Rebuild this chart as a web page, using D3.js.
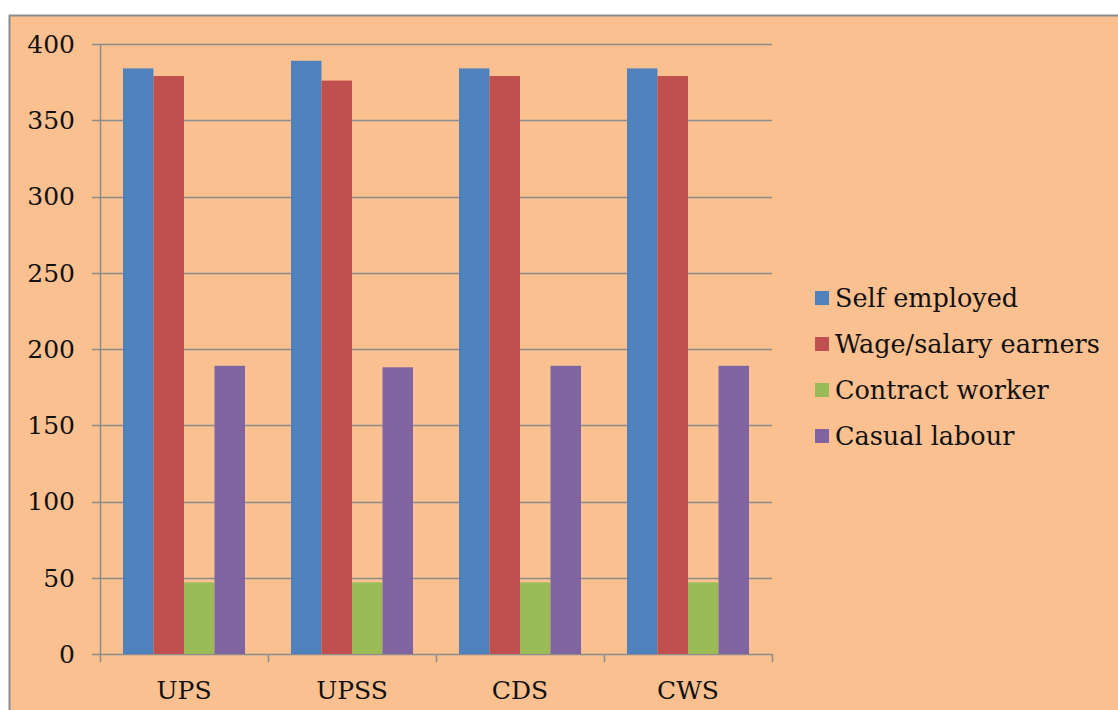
<!DOCTYPE html>
<html>
<head>
<meta charset="utf-8">
<script src="https://cdn.jsdelivr.net/npm/d3@7"></script>
<style>
  body { margin: 0; background: #fff; }
  text { font-family: "DejaVu Serif", "Liberation Serif", serif; fill: #111; }
</style>
</head>
<body>
<div class="canvas"></div>
<script>
// chart data
var categories = ['UPS', 'UPSS', 'CDS', 'CWS'];
var seriesNames = ['Self employed', 'Wage/salary earners', 'Contract worker', 'Casual labour'];
var selfEmployed = [384, 389, 384, 384];
var wageEarners = [379, 376, 379, 379];
var contractWorker = [47, 47, 47, 47];
var casualLabour = [189, 188, 189, 189];
var yTicks = [0, 50, 100, 150, 200, 250, 300, 350, 400];

var colors = ['#4F81BD', '#C0504D', '#9BBB59', '#8064A2'];
var seriesValues = [selfEmployed, wageEarners, contractWorker, casualLabour];

var canvasWidth = 1118, canvasHeight = 710;
var margin = {t:44, r:346, b:56, l:100};
var plotWidth = canvasWidth - margin.l - margin.r,
    plotHeight = canvasHeight - margin.t - margin.b;

var svg = d3.select('.canvas')
    .append('svg')
    .attr('width', canvasWidth)
    .attr('height', canvasHeight);

// chart area background + border
svg.append('rect')
    .attr('x', 9.5).attr('y', 15.5)
    .attr('width', canvasWidth)
    .attr('height', canvasHeight)
    .style('fill', '#FAC090')
    .style('stroke', '#8c8c8c')
    .style('stroke-width', 2);

var plot = svg.append('g')
    .attr('transform', 'translate(' + margin.l + ',' + margin.t + ')');

var x = d3.scaleBand()
    .domain(categories)
    .range([0, plotWidth])
    .paddingInner(0)
    .paddingOuter(0);

var x1 = d3.scaleBand()
    .domain(d3.range(seriesNames.length))
    .range([23, x.bandwidth() - 23]);

var y = d3.scaleLinear()
    .domain([0, 400])
    .range([plotHeight, 0]);

// gridlines
plot.selectAll('line.grid')
    .data(yTicks)
    .enter().append('line')
    .attr('class', 'grid')
    .attr('x1', -8)
    .attr('x2', plotWidth)
    .attr('y1', function(d){ return Math.round(y(d)) + 0.5; })
    .attr('y2', function(d){ return Math.round(y(d)) + 0.5; })
    .style('stroke', '#8c8c8c')
    .style('stroke-width', 1.5);

// y labels
plot.selectAll('text.ylab')
    .data(yTicks)
    .enter().append('text')
    .attr('class', 'ylab')
    .attr('x', -25)
    .attr('y', function(d){ return y(d); })
    .attr('dy', '0.35em')
    .attr('text-anchor', 'end')
    .style('font-size', '25px')
    .text(function(d){ return d; });

// bars
var groups = plot.selectAll('g.cat')
    .data(categories)
    .enter().append('g')
    .attr('class', 'cat')
    .attr('transform', function(d){ return 'translate(' + x(d) + ',0)'; });

groups.selectAll('rect')
    .data(function(d, i){
        return seriesValues.map(function(s, j){ return {k: j, v: s[i]}; });
    })
    .enter().append('rect')
    .attr('x', function(d){ return x1(d.k); })
    .attr('width', x1.bandwidth())
    .attr('y', function(d){ return y(d.v); })
    .attr('height', function(d){ return plotHeight - y(d.v); })
    .style('fill', function(d){ return colors[d.k]; });

// axes lines
plot.append('line')
    .attr('x1', 0.5).attr('x2', 0.5)
    .attr('y1', 0).attr('y2', plotHeight)
    .style('stroke', '#8c8c8c').style('stroke-width', 1.5);

var xTickPos = categories.map(function(c){ return x(c); }).concat([plotWidth]);
plot.selectAll('line.xtick')
    .data(xTickPos)
    .enter().append('line')
    .attr('class', 'xtick')
    .attr('x1', function(d){ return Math.round(d) + 0.5; })
    .attr('x2', function(d){ return Math.round(d) + 0.5; })
    .attr('y1', plotHeight)
    .attr('y2', plotHeight + 8)
    .style('stroke', '#8c8c8c').style('stroke-width', 1.5);

// x labels
plot.selectAll('text.xlab')
    .data(categories)
    .enter().append('text')
    .attr('class', 'xlab')
    .attr('x', function(d){ return x(d) + x.bandwidth() / 2; })
    .attr('y', plotHeight + 45)
    .attr('text-anchor', 'middle')
    .style('font-size', '25px')
    .text(function(d){ return d; });

// legend
var legend = svg.append('g')
    .attr('transform', 'translate(815,298)');

var items = legend.selectAll('g')
    .data(seriesNames)
    .enter().append('g')
    .attr('transform', function(d, i){ return 'translate(0,' + (i * 46) + ')'; });

items.append('rect')
    .attr('x', 0).attr('y', -7)
    .attr('width', 14).attr('height', 14)
    .style('fill', function(d, i){ return colors[i]; });

items.append('text')
    .attr('x', 20)
    .attr('y', 0)
    .attr('dy', '0.35em')
    .style('font-size', '25.5px')
    .text(function(d){ return d; });
</script>
</body>
</html>
